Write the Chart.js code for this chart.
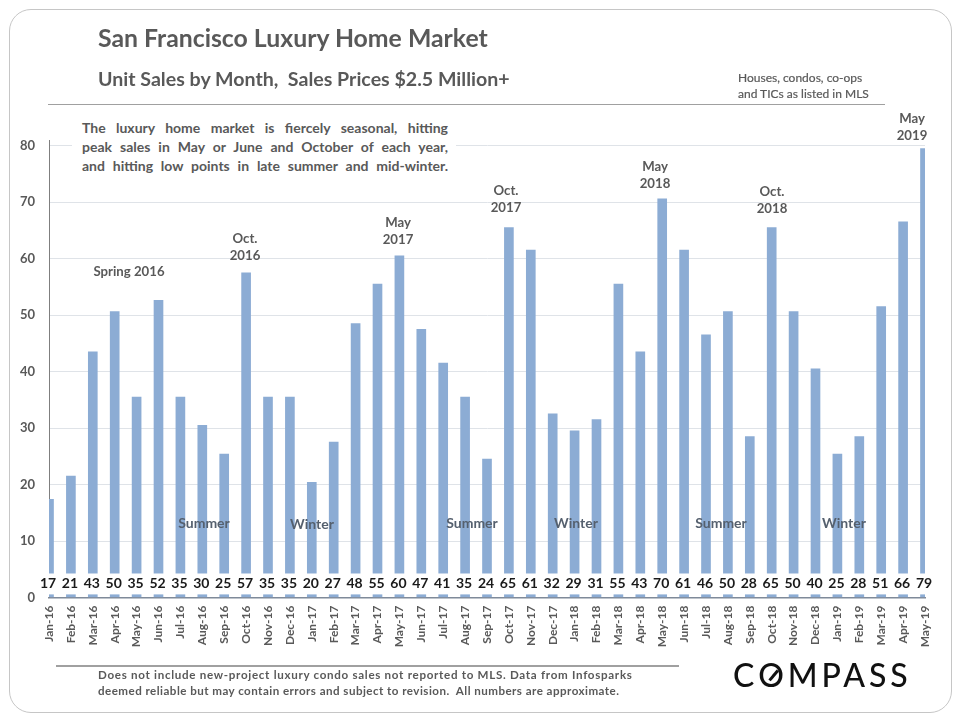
<!DOCTYPE html>
<html>
<head>
<meta charset="utf-8">
<script src="https://cdn.jsdelivr.net/npm/chart.js@4"></script>
<style>
  html, body { margin: 0; padding: 0; background: #fff; }
  #page { position: relative; width: 960px; height: 720px; overflow: hidden; font-family: Lato, sans-serif; color: #595959; }
  #myChart { position: absolute; left: 0; top: 0; }
  .frame { position: absolute; left: 9px; top: 9px; width: 941px; height: 702px; border: 1px solid #c6c6c6; border-radius: 22px; }
  .txt { position: absolute; font-weight: 700; white-space: nowrap; }
  .rule { position: absolute; height: 1px; background: #a0a0a0; }
  .logo { position: absolute; left: 733px; top: 657px; font: 500 32px/36px Lato, sans-serif; letter-spacing: 3.9px; color: #111; white-space: nowrap; }
  .logo span { position: relative; display: inline-block; }
  .logo span::after { content: ''; position: absolute; left: 9px; top: 17px; width: 13px; height: 2.5px; background: #111; transform: rotate(-50deg); }
</style>
</head>
<body>
<div id="page">
  <canvas id="myChart" width="960" height="720"></canvas>
  <div class="frame"></div>
  <div class="txt" style="left:98px;top:23px;font-size:24.8px;line-height:30px">San Francisco Luxury Home Market</div>
  <div class="txt" style="left:98px;top:67px;font-size:19.6px;line-height:24px">Unit Sales by Month,&nbsp; Sales Prices $2.5 Million+</div>
  <div class="txt" style="left:738px;top:70px;font-size:12px;line-height:16px;font-weight:400;-webkit-text-stroke:.2px #595959">Houses, condos, co-ops<br>and TICs as listed in MLS</div>
  <div class="rule" style="left:48px;top:104px;width:837px"></div>
  <div class="txt" style="left:72px;top:118px;width:366px;padding:0 8px 0 10px;background:#fff;font-size:14px;line-height:19px;text-align:justify;white-space:normal;text-align-last:justify">The luxury home market is fiercely seasonal, hitting<br>peak sales in May or June and October of each year,<br>and hitting low points in late summer and mid-winter.</div>
  <div class="rule" style="left:56px;top:665px;width:623px;height:1.5px"></div>
  <div class="txt" style="left:98px;top:667px;font-size:11.6px;line-height:16px"><span style="letter-spacing:.7px">Does not include new-project luxury condo sales not reported to MLS. Data from Infosparks</span><br><span style="letter-spacing:.46px">deemed reliable but may contain errors and subject to revision.&nbsp; All numbers are approximate.</span></div>
  <div class="logo">C<span>O</span>MPASS</div>
</div>
<script>
const months = ['Jan-16','Feb-16','Mar-16','Apr-16','May-16','Jun-16','Jul-16','Aug-16','Sep-16','Oct-16','Nov-16','Dec-16',
  'Jan-17','Feb-17','Mar-17','Apr-17','May-17','Jun-17','Jul-17','Aug-17','Sep-17','Oct-17','Nov-17','Dec-17',
  'Jan-18','Feb-18','Mar-18','Apr-18','May-18','Jun-18','Jul-18','Aug-18','Sep-18','Oct-18','Nov-18','Dec-18',
  'Jan-19','Feb-19','Mar-19','Apr-19','May-19']
// numbers printed under the bars
const soldLabels = [17,21,43,50,35,52,35,30,25,57,35,35,20,27,48,55,60,47,41,35,24,65,61,32,29,31,55,43,70,61,46,50,28,65,50,40,25,28,51,66,79]
// bar heights as read against the gridlines, they sit a bit above the printed number
const sold = [17.4,21.5,43.5,50.6,35.5,52.6,35.5,30.5,25.4,57.5,35.5,35.5,20.4,27.5,48.5,55.5,60.5,47.5,41.5,35.5,24.5,65.5,61.5,32.5,29.5,31.5,55.5,43.5,70.6,61.5,46.5,50.6,28.5,65.5,50.6,40.5,25.4,28.5,51.5,66.5,79.5]
const notes = [
  { lines: ['Spring 2016'], x: 129, y: 272 },
  { lines: ['Oct.', '2016'], x: 245, y: 239 },
  { lines: ['May', '2017'], x: 398, y: 223 },
  { lines: ['Oct.', '2017'], x: 506, y: 191 },
  { lines: ['May', '2018'], x: 655, y: 167 },
  { lines: ['Oct.', '2018'], x: 772, y: 192 },
  { lines: ['May', '2019'], x: 912, y: 119 }
]
const seasons = [
  { text: 'Summer', x: 204, y: 523 },
  { text: 'Winter', x: 312, y: 524 },
  { text: 'Summer', x: 472, y: 523 },
  { text: 'Winter', x: 576, y: 523 },
  { text: 'Summer', x: 721, y: 523 },
  { text: 'Winter', x: 844, y: 523 }
]

// white strip across the bars that holds the printed numbers, plus the text notes
const labelStrip = {
  id: 'labelStrip',
  afterDatasetsDraw(chart) {
    const { ctx, chartArea, scales: { x, y } } = chart
    ctx.save()
    ctx.fillStyle = '#fff'
    ctx.fillRect(chartArea.left - 12, y.getPixelForValue(4.25), chartArea.right - chartArea.left + 24, y.getPixelForValue(0.55) - y.getPixelForValue(4.25))
    ctx.fillStyle = '#1a1a1a'
    ctx.font = '700 14px Lato'
    ctx.textAlign = 'center'
    ctx.textBaseline = 'middle'
    soldLabels.forEach((v, i) => ctx.fillText(v, x.getPixelForValue(i) - 1, y.getPixelForValue(2.5)))

    ctx.fillStyle = '#595959'
    ctx.font = '700 13.2px Lato'
    notes.forEach(n => n.lines.forEach((l, j) => ctx.fillText(l, n.x, n.y + j * 16.5)))
    ctx.fillStyle = '#55606e'
    ctx.font = '700 14px Lato'
    seasons.forEach(s => ctx.fillText(s.text, s.x, s.y))
    ctx.restore()
  }
}

const data = {
  labels: months,
  datasets: [{
    label: 'Unit sales',
    data: sold,
    backgroundColor: '#8cacd4',
    barThickness: 9
  }]
}
const config = {
  type: 'bar',
  data,
  plugins: [labelStrip],
  options: {
    responsive: false,
    animation: false,
    layout: { padding: { top: 140, right: 35, left: 0, bottom: 0 } },
    plugins: { legend: { display: false }, title: { display: false }, tooltip: { enabled: false } },
    scales: {
      x: {
        offset: false,
        afterFit: s => { s.height = 122.5 },
        grid: { display: false, drawTicks: false },
        border: { color: '#7f8a99', width: 1.5 },
        ticks: { autoSkip: false, minRotation: 90, maxRotation: 90, padding: 8, color: '#595959', font: { family: 'Lato', size: 12, weight: '700' } }
      },
      y: {
        min: 0,
        max: 81,
        afterFit: s => { s.width = 49 },
        grid: { color: '#dfe3e8', drawTicks: false },
        border: { color: '#7f7f7f' },
        ticks: { stepSize: 10, includeBounds: false, padding: 14, color: '#595959', font: { family: 'Lato', size: 13, weight: '700' } }
      }
    }
  }
}
const myChart = new Chart(document.querySelector('#myChart'), config)
</script>
</body>
</html>
